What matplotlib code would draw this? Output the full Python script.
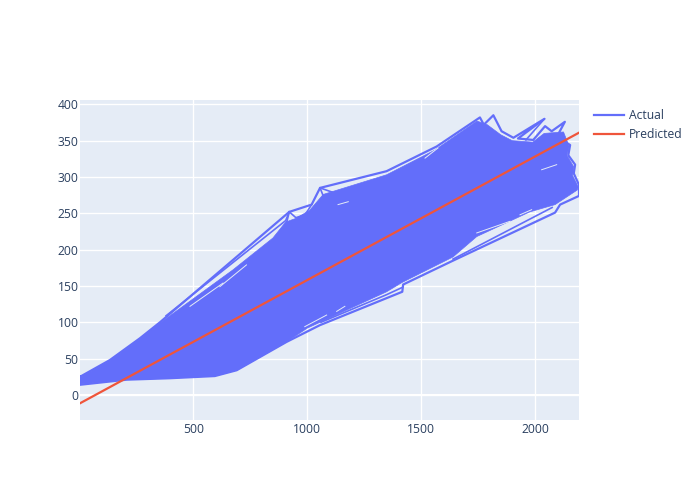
import matplotlib
matplotlib.use("Agg")
import matplotlib.pyplot as plt

plt.rcParams['font.family'] = ['Open Sans', 'DejaVu Sans']

# ------------------------------
# DATA
# ------------------------------

# outer edge of the actual series, upper side then lower side
outer_x = [2, 133, 265, 353, 921, 1019, 1056, 1348, 1568, 1758, 1775, 1817, 1853, 1905, 2041,
           1925, 1992, 2044, 2073, 2131, 2090, 2129, 2154, 2146, 2176, 2170, 2193,
           2193, 2110, 2088, 1634, 1421, 1417, 1055, 909, 690, 594, 397, 207, 2]
outer_y = [25, 48, 78, 100, 252, 262, 285, 308, 342, 382, 372, 385, 363, 354, 380,
           353, 351, 370, 363, 376, 352, 349, 344, 330, 317, 305, 289,
           274, 262, 251, 184, 152, 142, 96, 73, 34, 26, 23, 21, 14]

# solid body of the actual series, sits just inside the outer edge
body_x = [2, 133, 265, 353, 673, 849, 905, 950, 1010, 1070, 1348, 1560, 1745, 1790, 1850, 1900, 1990,
          2040, 2125, 2150, 2140, 2170, 2165, 2190,
          2185, 2088, 1977, 1744, 1640, 1417, 1348, 1000, 909, 690, 594, 397, 207, 2]
body_y = [24, 47, 77, 99, 172, 216, 238, 243, 254, 276, 303, 337, 377, 372, 358, 350, 348,
          360, 362, 342, 330, 314, 302, 286,
          282, 262, 252, 218, 190, 155, 142, 92, 73, 34, 26, 23, 21, 15]

# strands left visible in the gaps next to the body
strand_x = [[380, 905, 921], [921, 950, 990, 1019], [921, 905, 880], [1056, 1120, 1180], [1056, 1075, 1040],
            [1640, 2075], [1060, 1348, 1417], [2041, 1960]]
strand_y = [[109, 240, 252], [252, 244, 248, 262], [252, 232, 212], [285, 278, 283], [285, 270, 262],
            [187, 258], [100, 138, 148], [380, 351]]

# thin light slivers left open inside the body
sliver_x = [[485, 630], [616, 733], [989, 1085], [1129, 1165], [1135, 1180], [1517, 1574],
            [1744, 1890], [1934, 1985], [2029, 2095]]
sliver_y = [[122, 154], [149, 179], [94, 110], [115, 122], [262, 266], [326, 340],
            [223, 239], [248, 255], [310, 317]]

pred_x = [2, 2193]
pred_y = [-11.5, 361]

xticks = [500, 1000, 1500, 2000]
yticks = [0, 50, 100, 150, 200, 250, 300, 350, 400]

BLUE = "#636efa"
RED = "#EF553B"
BG = "#E5ECF6"
TEXT = "#2a3f5f"

# ------------------------------
# PLOT
# ------------------------------

fig = plt.figure(figsize=(7, 5), dpi=100)
ax = fig.add_axes([80 / 700, 80 / 500, 499 / 700, 320 / 500])
ax.set_facecolor(BG)

ax.grid(True, color="white", linewidth=0.95)
ax.set_axisbelow(True)
ax.axhline(0, color="white", linewidth=1.5, zorder=1)

ax.fill(body_x, body_y, color=BLUE, linewidth=0.5, zorder=2)
for sx, sy in zip(strand_x, strand_y):
    ax.plot(sx, sy, color=BLUE, linewidth=1.2, zorder=2)
for sx, sy in zip(sliver_x, sliver_y):
    ax.plot(sx, sy, color=BG, linewidth=0.7, zorder=2.5)
ax.plot(outer_x + outer_x[:1], outer_y + outer_y[:1], color=BLUE, linewidth=1.6,
        solid_joinstyle="round", label="Actual", zorder=3)
ax.plot(pred_x, pred_y, color=RED, linewidth=1.6, label="Predicted", zorder=4)

ax.set_xlim(2, 2193)
ax.set_ylim(-34.5, 406)
ax.set_xticks(xticks)
ax.set_yticks(yticks)
ax.tick_params(axis="x", length=0, labelsize=8.75, labelcolor=TEXT, pad=2.5)
ax.tick_params(axis="y", length=0, labelsize=8.75, labelcolor=TEXT, pad=1)
for s in ax.spines.values():
    s.set_visible(False)

ax.legend(loc="upper left", bbox_to_anchor=(594 / 700, 1 - 109 / 500), bbox_transform=fig.transFigure,
          frameon=False, fontsize=8.75, labelcolor=TEXT, handlelength=2.45, handletextpad=0.4,
          labelspacing=0.5, borderpad=0, borderaxespad=0)

fig.savefig("out.png", dpi=100)
